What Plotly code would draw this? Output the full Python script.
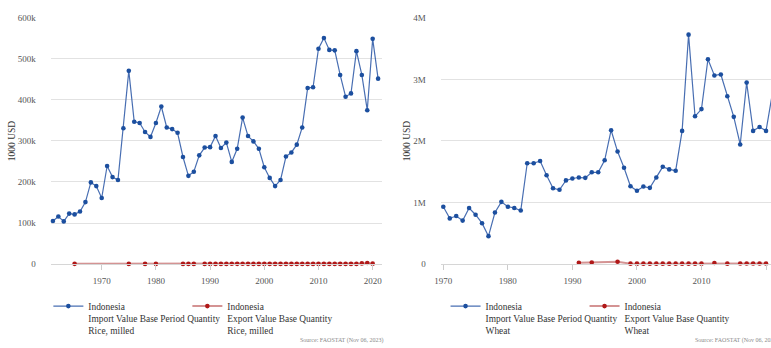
import plotly.graph_objects as go

# Indonesia, rice (milled) - values in 1000 USD
rice_import_years = list(range(1961, 2022))
rice_import = [
    105000, 116000, 104000, 123000, 121000, 128000, 151000, 199000, 190000, 161000,
    239000, 212000, 205000, 331000, 471000, 347000, 344000, 322000, 310000, 344000,
    384000, 333000, 329000, 320000, 261000, 215000, 225000, 265000, 284000, 285000,
    312000, 283000, 296000, 249000, 281000, 357000, 312000, 299000, 281000, 236000,
    210000, 190000, 205000, 262000, 272000, 291000, 333000, 429000, 431000, 525000,
    551000, 522000, 521000, 461000, 408000, 416000, 519000, 461000, 375000, 549000,
    452000,
]
rice_export_years = [1965, 1975, 1978, 1980, 1985, 1986, 1987] + list(range(1989, 2022))
rice_export = [
    400, 300, 300, 300, 300, 300, 300,
    300, 300, 300, 300, 300, 600, 500, 600, 400, 300,
    300, 300, 300, 300, 300, 300, 300, 300, 300, 300,
    300, 300, 300, 300, 300, 300, 300, 300, 300, 1500,
    2500, 1000,
]

# Indonesia, wheat - values in 1000 USD
wheat_import_years = list(range(1970, 2022))
wheat_import = [
    932000, 742000, 780000, 706000, 911000, 801000, 664000, 453000, 837000, 1011000,
    932000, 911000, 869000, 1638000, 1638000, 1675000, 1444000, 1232000, 1207000, 1359000,
    1390000, 1406000, 1401000, 1491000, 1491000, 1686000, 2175000, 1828000, 1564000, 1264000,
    1191000, 1259000, 1238000, 1406000, 1580000, 1538000, 1517000, 2164000, 3728000, 2401000,
    2518000, 3328000, 3065000, 3081000, 2728000, 2392000, 1943000, 2949000, 2164000, 2227000,
    2164000, 2780000,
]
wheat_export_years = [1991, 1993, 1997] + list(range(1999, 2011)) + [2012, 2014, 2016, 2017, 2018, 2019, 2020]
wheat_export = [
    20000, 25000, 38000,
    6000, 6000, 6000, 6000, 6000, 6000, 6000, 6000, 6000, 6000, 6000, 6000,
    18000, 6000, 8000, 8000, 8000, 8000, 8000,
]

x_ticks = [1970, 1980, 1990, 2000, 2010, 2020]
entity = "Indonesia"
import_label = "Import Value Base Period Quantity"
export_label = "Export Value Base Quantity"
items = ["Rice, milled", "Wheat"]
source_text = "Source: FAOSTAT (Nov 06, 2023)"

FONT = "Liberation Serif, Times New Roman, serif"
BLUE = "#1c4f9f"
RED = "#b01818"
GRID = "#e2e2e2"

fig = go.Figure()


def add_pair(imp_x, imp_y, exp_x, exp_y, item, xa, ya, legend):
    fig.add_trace(go.Scatter(
        x=imp_x, y=imp_y, mode="lines+markers",
        name=f"{entity}<br>{import_label}<br>{item}",
        line=dict(color="rgba(40,85,165,0.85)", width=1.2),
        marker=dict(color=BLUE, size=4.6),
        cliponaxis=False, xaxis=xa, yaxis=ya, legend=legend, legendwidth=94,
    ))
    fig.add_trace(go.Scatter(
        x=exp_x, y=exp_y, mode="lines+markers",
        name=f"{entity}<br>{export_label}<br>{item}",
        line=dict(color="rgba(170,40,40,0.5)", width=2),
        marker=dict(color=RED, size=4.6),
        cliponaxis=False, xaxis=xa, yaxis=ya, legend=legend, legendwidth=140,
    ))


add_pair(rice_import_years, rice_import, rice_export_years, rice_export, items[0], "x", "y", "legend")
add_pair(wheat_import_years, wheat_import, wheat_export_years, wheat_export, items[1], "x2", "y2", "legend2")

W, H = 771, 348
ydom = [(H - 266.7) / H, (H - 13.3) / H]

xcommon = dict(
    tickvals=x_ticks, ticks="outside", ticklen=5, tickcolor="#cccccc",
    showline=True, linecolor="#d6d6d6", linewidth=1, showgrid=False, zeroline=False,
    ticklabelstandoff=3,
    tickfont=dict(family=FONT, size=9, color="#555555"),
)
ycommon = dict(
    domain=ydom, showgrid=True, gridcolor=GRID, gridwidth=1, zeroline=False,
    ticks="outside", ticklen=12, tickcolor="rgba(0,0,0,0)",
    tickfont=dict(family=FONT, size=9, color="#555555"),
    title=dict(text="1000 USD", font=dict(family=FONT, size=9.5, color="#333333"), standoff=0),
)
legcommon = dict(
    orientation="h", xanchor="left", yanchor="top", valign="top",
    entrywidthmode="pixels", bgcolor="rgba(0,0,0,0)",
    font=dict(family=FONT, size=9.4, color="#333333"), itemclick=False,
)

fig.update_layout(
    width=W, height=H, margin=dict(l=0, r=0, t=0, b=0),
    paper_bgcolor="white", plot_bgcolor="white", showlegend=True,
    xaxis=dict(domain=[45 / W, 379 / W], range=[1960.58, 2021.73], anchor="y", **xcommon),
    yaxis=dict(range=[0, 600000], dtick=100000, anchor="x", **ycommon),
    xaxis2=dict(domain=[438 / W, 1.0], range=[1969.58, 2020.77], anchor="y2", **xcommon),
    yaxis2=dict(range=[0, 4000000], dtick=1000000, anchor="x2", **ycommon),
    legend=dict(x=42.7 / W, y=(H - 297) / H, **legcommon),
    legend2=dict(x=443 / W, y=(H - 297) / H, **legcommon),
    annotations=[
        dict(text=source_text, x=382 / W, y=(H - 345) / H, xref="paper", yref="paper",
             xanchor="right", yanchor="middle", showarrow=False,
             font=dict(family=FONT, size=6, color="#8a8a8a")),
        dict(text=source_text, x=780 / W, y=(H - 345) / H, xref="paper", yref="paper",
             xanchor="right", yanchor="middle", showarrow=False,
             font=dict(family=FONT, size=6, color="#8a8a8a")),
    ],
)

fig.write_html("out.html")
